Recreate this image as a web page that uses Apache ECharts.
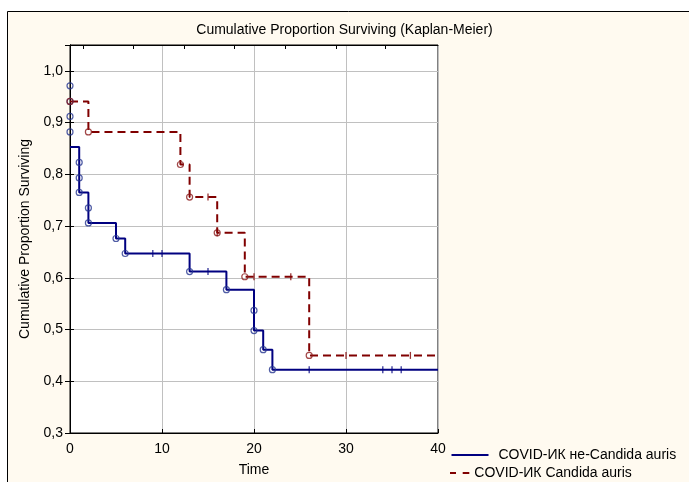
<!DOCTYPE html>
<html>
<head>
<meta charset="utf-8">
<script src="https://cdn.jsdelivr.net/npm/echarts@6/dist/echarts.min.js"></script>
<style>
html,body{margin:0;padding:0;background:#fff;}
#chart{width:689px;height:482px;}
</style>
</head>
<body>
<div id="chart"></div>
<script>
// ---------- data ----------
const blueName = 'COVID-ИК не-Candida auris';
const redName = 'COVID-ИК Candida auris';

const blueStepTimes  = [0, 1, 2, 5, 6, 13, 17, 20, 21, 22, 40];
const blueStepValues = [0.853, 0.765, 0.706, 0.676, 0.647, 0.612, 0.577, 0.498, 0.461, 0.4225, 0.4225];
const blueEventTimes  = [0, 0, 0, 0, 1, 1, 1, 2, 2, 5, 6, 13, 17, 20, 20, 21, 22];
const blueEventValues = [0.971, 0.941, 0.912, 0.882, 0.823, 0.793, 0.765, 0.735, 0.706, 0.676, 0.647, 0.612, 0.577, 0.537, 0.498, 0.461, 0.4225];
const blueCensorTimes  = [9, 10, 15, 26, 34, 35, 36];
const blueCensorValues = [0.647, 0.647, 0.612, 0.4225, 0.4225, 0.4225, 0.4225];

const redStepTimes  = [0, 2, 12, 13, 16, 19, 26, 40];
const redStepValues = [0.941, 0.882, 0.819, 0.756, 0.687, 0.602, 0.45, 0.45];
const redEventTimes  = [0, 2, 12, 13, 16, 19, 26];
const redEventValues = [0.941, 0.882, 0.819, 0.756, 0.687, 0.602, 0.45];
const redCensorTimes  = [15, 16, 20, 24, 30, 37];
const redCensorValues = [0.756, 0.687, 0.602, 0.602, 0.45, 0.45];

const topTickValues = [1.4, 6.9, 12.4, 17.9, 23.4, 28.9, 34.3];

const titleText = 'Cumulative Proportion Surviving (Kaplan-Meier)';
const xName = 'Time';
const yName = 'Cumulative Proportion Surviving';

// ---------- helpers ----------
const zip = (xs, ys) => xs.map((x, i) => [x, ys[i]]);
const FONT = 'Liberation Sans, Arial, sans-serif';
const BLUE = '#000080';
const RED = '#800000';

const chart = echarts.init(document.getElementById('chart'), null, {renderer: 'canvas'});

const option = {
  backgroundColor: '#ffffff',
  animation: false,
  graphic: [{
    type: 'rect',
    z: -100,
    silent: true,
    shape: {x: 7.5, y: 11.5, width: 720, height: 520},
    style: {fill: '#fffaf0', stroke: '#000', lineWidth: 1}
  }],
  title: {
    text: titleText,
    left: 'center',
    top: 23,
    padding: 0,
    textStyle: {fontFamily: FONT, fontSize: 14, fontWeight: 'normal', color: '#000'}
  },
  legend: [{
    data: [blueName],
    left: 451.5, top: 448, padding: 0,
    itemWidth: 37, itemHeight: 2,
    icon: 'rect',
    selectedMode: false,
    itemStyle: {borderWidth: 0},
    textStyle: {fontFamily: FONT, fontSize: 14, color: '#000', padding: [0, 0, 0, 5]}
  }, {
    data: [redName],
    left: 450, top: 466, padding: 0,
    itemWidth: 19.3, itemHeight: 2,
    icon: 'path://M0,0H6V2H0Z M12.7,0H19.3V2H12.7Z',
    selectedMode: false,
    itemStyle: {borderWidth: 0},
    textStyle: {fontFamily: FONT, fontSize: 14, color: '#000'}
  }],
  grid: {
    left: 70, right: 251, top: 45, bottom: 48,
    show: true, backgroundColor: '#ffffff', borderColor: '#000', borderWidth: 1
  },
  xAxis: [{
    type: 'value', min: 0, max: 40, interval: 10,
    name: xName, nameLocation: 'middle', nameGap: 30,
    nameTextStyle: {fontFamily: FONT, fontSize: 14, color: '#000'},
    axisLine: {show: true, lineStyle: {color: '#000', width: 1}},
    axisTick: {show: true, inside: true, length: 4, lineStyle: {color: '#000'}},
    axisLabel: {fontFamily: FONT, fontSize: 14, color: '#000', margin: 9},
    splitLine: {show: true, lineStyle: {color: '#c0c0c0', width: 1}}
  }, {
    type: 'value', min: 0, max: 40, position: 'top',
    axisLine: {show: true, lineStyle: {color: '#000', width: 1}},
    axisTick: {show: true, inside: true, length: 4, customValues: topTickValues, lineStyle: {color: '#000'}},
    axisLabel: {show: false},
    splitLine: {show: false}
  }],
  yAxis: [{
    type: 'value', min: 0.3, max: 1.05, interval: 0.1,
    name: yName, nameLocation: 'middle', nameGap: 35, nameRotate: 90,
    nameTextStyle: {fontFamily: FONT, fontSize: 14, color: '#000'},
    axisLine: {show: true, lineStyle: {color: '#000', width: 1}},
    axisTick: {show: true, inside: false, length: 5, lineStyle: {color: '#000'}},
    axisLabel: {
      fontFamily: FONT, fontSize: 14, color: '#000', margin: 7,
      formatter: v => (Math.abs(v * 10 - Math.round(v * 10)) < 1e-6) ? v.toFixed(1).replace('.', ',') : ''
    },
    splitLine: {show: true, lineStyle: {color: '#c0c0c0', width: 1}}
  }, {
    type: 'value', min: 0.3, max: 1.05, interval: 0.1, position: 'right',
    axisLine: {show: true, lineStyle: {color: '#000', width: 1}},
    axisTick: {show: true, inside: false, length: 4, lineStyle: {color: '#000'}},
    axisLabel: {show: false},
    splitLine: {show: false}
  }],
  series: [{
    name: blueName, type: 'line', step: 'end',
    data: zip(blueStepTimes, blueStepValues),
    showSymbol: false, symbol: 'none', color: BLUE, z: 3,
    lineStyle: {color: BLUE, width: 2}
  }, {
    name: redName, type: 'line', step: 'end',
    data: zip(redStepTimes, redStepValues),
    showSymbol: false, symbol: 'none', color: RED, z: 3,
    lineStyle: {color: RED, width: 2, type: [8, 5]}
  }, {
    name: 'blue-events', type: 'scatter', clip: false, z: 4,
    data: zip(blueEventTimes, blueEventValues),
    symbol: 'circle', symbolSize: 6,
    itemStyle: {color: 'rgba(0,0,0,0)', borderColor: '#24348f', borderWidth: 1.2}
  }, {
    name: 'blue-censored', type: 'scatter', z: 4,
    data: zip(blueCensorTimes, blueCensorValues),
    symbol: 'rect', symbolSize: [1.3, 7],
    itemStyle: {color: BLUE}
  }, {
    name: 'red-events', type: 'scatter', clip: false, z: 4,
    data: zip(redEventTimes, redEventValues),
    symbol: 'circle', symbolSize: 6,
    itemStyle: {color: 'rgba(0,0,0,0)', borderColor: '#8b1a1a', borderWidth: 1.2}
  }, {
    name: 'red-censored', type: 'scatter', z: 4,
    data: zip(redCensorTimes, redCensorValues),
    symbol: 'rect', symbolSize: [1.3, 7],
    itemStyle: {color: RED}
  }]
};

chart.setOption(option);
</script>
</body>
</html>
